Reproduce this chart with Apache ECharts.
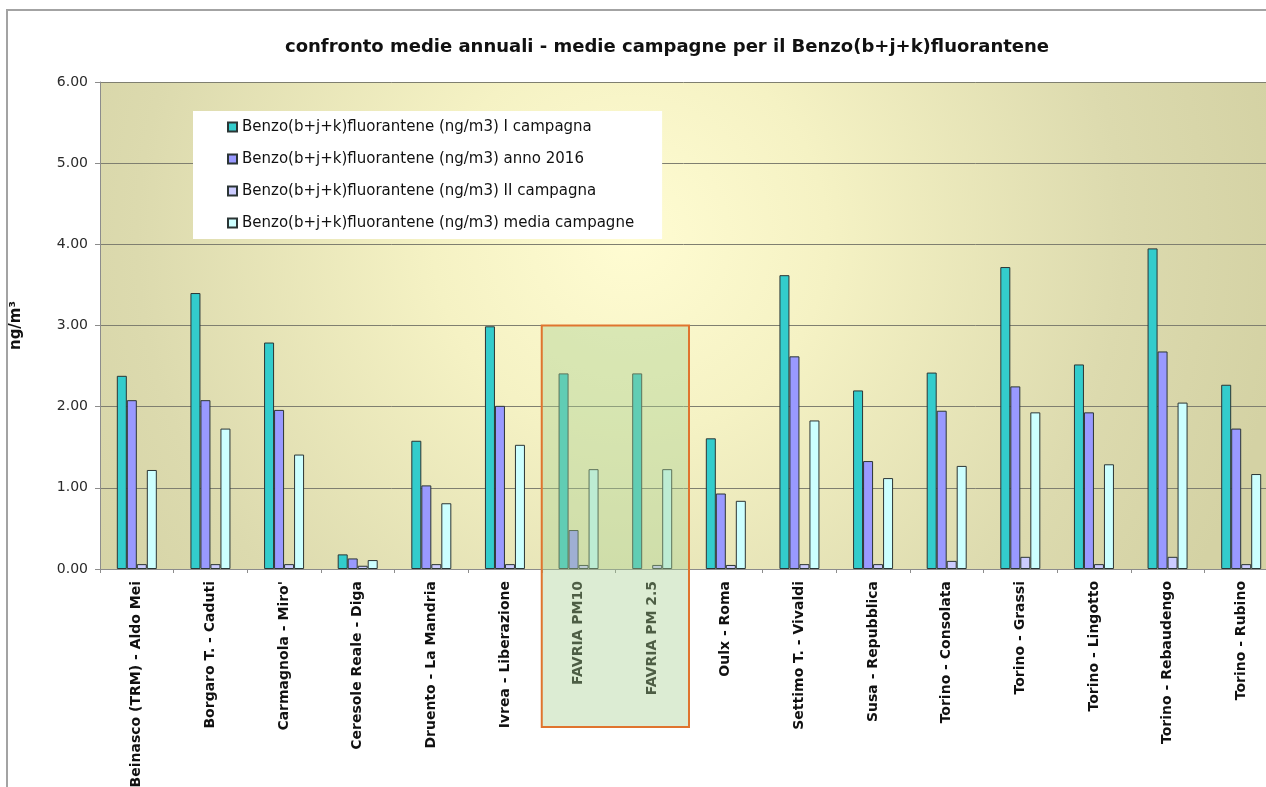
<!DOCTYPE html>
<html>
<head>
<meta charset="utf-8">
<script src="https://cdn.jsdelivr.net/npm/echarts@6/dist/echarts.min.js"></script>
<style>
  html, body { margin: 0; padding: 0; background: #ffffff; overflow: hidden; }
  #chart { width: 1266px; height: 787px; }
</style>
</head>
<body>
<div id="chart"></div>
<script>
// Stazioni di misura
const categories = [
  'Beinasco (TRM) - Aldo Mei', 'Borgaro T. - Caduti', "Carmagnola - Miro'",
  'Ceresole Reale - Diga', 'Druento - La Mandria', 'Ivrea - Liberazione',
  'FAVRIA PM10', 'FAVRIA PM 2.5', 'Oulx - Roma', 'Settimo T. - Vivaldi',
  'Susa - Repubblica', 'Torino - Consolata', 'Torino - Grassi',
  'Torino - Lingotto', 'Torino - Rebaudengo', 'Torino - Rubino'
];

// Concentrazioni in ng/m3
const campagna1     = [2.38, 3.40, 2.79, 0.18, 1.58, 2.99, 2.41, 2.41, 1.61, 3.62, 2.20, 2.42, 3.72, 2.52, 3.95, 2.27];
const anno2016      = [2.08, 2.08, 1.96, 0.13, 1.03, 2.01, 0.48, null, 0.93, 2.62, 1.33, 1.95, 2.25, 1.93, 2.68, 1.73];
const campagna2     = [0.06, 0.06, 0.06, 0.04, 0.06, 0.06, 0.05, 0.05, 0.05, 0.06, 0.06, 0.10, 0.15, 0.06, 0.15, 0.06];
const mediaCampagne = [1.22, 1.73, 1.41, 0.11, 0.81, 1.53, 1.23, 1.23, 0.84, 1.83, 1.12, 1.27, 1.93, 1.29, 2.05, 1.17];

const seriesNames = [
  'Benzo(b+j+k)fluorantene (ng/m3) I campagna',
  'Benzo(b+j+k)fluorantene (ng/m3) anno 2016',
  'Benzo(b+j+k)fluorantene (ng/m3) II campagna',
  'Benzo(b+j+k)fluorantene (ng/m3) media campagne'
];
const seriesColors = ['#33cccc', '#9999ff', '#ccccff', '#ccffff'];

// Asse Y: 0.00 - 6.00, passo 1
const yMin = 0, yMax = 6, yStep = 1;

const FONT = 'DejaVu Sans';

const chart = echarts.init(document.getElementById('chart'), null, { renderer: 'canvas' });

function barSeries(name, data, color) {
  return {
    name: name,
    type: 'bar',
    data: data,
    barWidth: 10,
    barGap: '0%',
    itemStyle: { color: color, borderColor: '#2b3535', borderWidth: 1 },
    emphasis: { disabled: true }
  };
}

chart.setOption({
  animation: false,
  backgroundColor: '#ffffff',
  title: {
    text: 'confronto medie annuali - medie campagne per il Benzo(b+j+k)fluorantene',
    left: 662,
    textAlign: 'center',
    top: 33,
    textStyle: { fontFamily: FONT, fontSize: 18, fontWeight: 'bold', color: '#111111' }
  },
  legend: {
    orient: 'vertical',
    left: 193,
    top: 111,
    backgroundColor: '#ffffff',
    padding: [8, 28, 8, 34],
    itemWidth: 9,
    itemHeight: 9,
    itemGap: 16,
    icon: 'rect',
    selectedMode: false,
    textStyle: { fontFamily: FONT, fontSize: 15, color: '#111111', lineHeight: 16 },
    data: seriesNames
  },
  grid: {
    left: 100,
    top: 82,
    width: 1178,
    height: 487,
    outerBoundsMode: 'none',
    containLabel: false,
    show: true,
    borderWidth: 0,
    borderColor: 'transparent',
    backgroundColor: {
      type: 'radial', x: 0.45, y: 0.32, r: 1.35,
      colorStops: [
        { offset: 0, color: '#fffcd2' },
        { offset: 0.3, color: '#f5f2c4' },
        { offset: 0.75, color: '#dcdaae' },
        { offset: 1, color: '#d4d2a4' }
      ]
    }
  },
  xAxis: {
    type: 'category',
    data: categories,
    axisLine: { lineStyle: { color: '#8c8c8c', width: 1 } },
    axisTick: { show: true, length: 4, lineStyle: { color: '#8c8c8c' } },
    axisLabel: {
      interval: 0,
      rotate: 90,
      margin: 12,
      fontFamily: FONT,
      fontSize: 14,
      fontWeight: 'bold',
      color: '#111111'
    }
  },
  yAxis: {
    type: 'value',
    min: yMin,
    max: yMax,
    interval: yStep,
    name: 'ng/m³',
    nameLocation: 'middle',
    nameRotate: 90,
    nameGap: 76,
    nameTextStyle: { fontFamily: FONT, fontSize: 15, fontWeight: 'bold', color: '#111111' },
    axisLine: { show: true, lineStyle: { color: '#8c8c8c' } },
    axisTick: { show: true, length: 5, lineStyle: { color: '#8c8c8c' } },
    axisLabel: {
      margin: 12,
      fontFamily: FONT,
      fontSize: 14,
      color: '#2a2a2a',
      formatter: v => v.toFixed(2)
    },
    splitLine: { show: true, lineStyle: { color: '#7f7f70', width: 1 } }
  },
  series: [
    barSeries(seriesNames[0], campagna1, seriesColors[0]),
    barSeries(seriesNames[1], anno2016, seriesColors[1]),
    barSeries(seriesNames[2], campagna2, seriesColors[2]),
    barSeries(seriesNames[3], mediaCampagne, seriesColors[3])
  ]
});

// Cornice dell'area grafico (lati sinistro e superiore) e riquadro evidenziato per Favria
const iPm10 = categories.indexOf('FAVRIA PM10');
const iPm25 = categories.indexOf('FAVRIA PM 2.5');
const xa = chart.convertToPixel({ xAxisIndex: 0 }, categories[iPm10]);
const xb = chart.convertToPixel({ xAxisIndex: 0 }, categories[iPm25]);
const step = xb - xa;
const yTop = chart.convertToPixel({ yAxisIndex: 0 }, 3);
const boxBottom = 727;

chart.setOption({
  graphic: [
    {
      type: 'polyline',
      silent: true,
      z: 0,
      shape: { points: [[7, 800], [7, 10], [1300, 10]] },
      style: { fill: null, stroke: '#a3a3a3', lineWidth: 2 }
    },
    {
      type: 'rect',
      silent: true,
      z: 100,
      shape: { x: xa - step / 2, y: yTop, width: step * 2, height: boxBottom - yTop },
      style: { fill: 'rgba(168, 208, 146, 0.40)', stroke: '#e0742e', lineWidth: 2 }
    }
  ]
});
</script>
</body>
</html>
